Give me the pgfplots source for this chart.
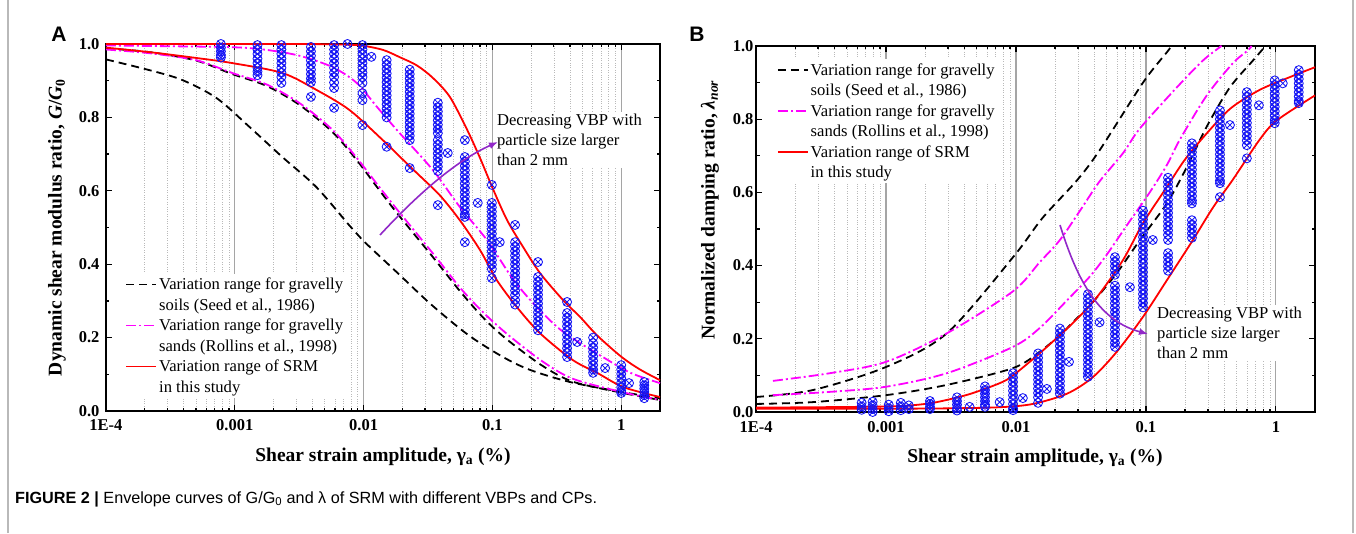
\documentclass[border=0pt]{standalone}
\usepackage{fontspec}
\setmainfont{Liberation Serif}
\newfontfamily\sansfont{Liberation Sans}
\usepackage{pgfplots}
\pgfplotsset{compat=1.18}
\usetikzlibrary{arrows.meta}
\definecolor{mag}{RGB}{255,0,255}
\definecolor{pur}{RGB}{145,40,200}
\definecolor{mkblue}{RGB}{20,20,245}
\definecolor{gridmaj}{RGB}{165,165,165}
\definecolor{gridmin}{RGB}{185,185,185}
\tikzset{
  blk/.style={black, line width=1.8pt, dash pattern=on 8pt off 5pt},
  mg/.style={mag, line width=1.8pt, dash pattern=on 10pt off 3pt on 2pt off 3pt},
  rd/.style={red, line width=1.8pt},
}
\pgfplotsset{legend image code/.code={\draw[#1] (0pt,0pt) -- (30pt,0pt);}}
\begin{document}
\begin{tikzpicture}
\path[use as bounding box] (0pt,0pt) rectangle (1356pt,533pt);
% ---------------- Panel A ----------------
\begin{axis}[
    scale only axis, xmode=log, xmin=1e-4, xmax=2, ymin=0, ymax=1,
    clip=false,
    xtick={1e-4,1e-3,1e-2,1e-1,1},
    xticklabels={1E-4,0.001,0.01,0.1,1},
    ytick={0,0.2,0.4,0.6,0.8,1},
    yticklabels={0.0,0.2,0.4,0.6,0.8,1.0},
    minor ytick={0.1,0.3,0.5,0.7,0.9},
    tick align=inside,
    major tick length=6pt, minor tick length=3.5pt,
    tick style={black, line width=1.2pt},
    axis line style={black, line width=1.6pt},
    xmajorgrids, xminorgrids,
    major grid style={gridmaj, line width=1.2pt},
    minor grid style={gridmin, dotted, line width=0.7pt},
    tick label style={font=\bfseries\fontsize{16.5}{16.5}\selectfont},
    label style={font=\bfseries\fontsize{19.5}{19.5}\selectfont},
    legend style={draw=none, fill=white, inner sep=2pt, row sep=3.4pt,
      font=\fontsize{16.6}{20}\selectfont,
      cells={anchor=west, inner xsep=5pt}},
  at={(106pt,122pt)}, anchor=south west, width=554pt, height=367pt,
  xlabel={Shear strain amplitude, γ\textsubscript{a} (\%)},
  ylabel={Dynamic shear modulus ratio, \textit{G}/\textit{G}\textsubscript{0}},
  xlabel style={at={(axis description cs:0.5,-0.125)}, anchor=center},
  ylabel style={at={(axis description cs:-0.0884,0.5)}, anchor=center},
  xticklabel style={yshift=-5pt},
  yticklabel style={xshift=-3pt},
  legend style={at={(axis description cs:0.031,0.374)}, anchor=north west},
]
\node[fill=white, align=left, anchor=north west, inner sep=2pt, font=\fontsize{16.6}{20}\selectfont]
  at (axis description cs:0.702,0.814) {Decreasing VBP with\\particle size larger\\than 2 mm};
\addlegendimage{blk}\addlegendentry{Variation range for gravelly}
\addlegendimage{empty legend}\addlegendentry{soils (Seed et al., 1986)}
\addlegendimage{mg}\addlegendentry{Variation range for gravelly}
\addlegendimage{empty legend}\addlegendentry{sands (Rollins et al., 1998)}
\addlegendimage{rd}\addlegendentry{Variation range of SRM}
\addlegendimage{empty legend}\addlegendentry{in this study}
% data points
\addplot[only marks, mark=otimes, mark size=4.5pt, mark options={draw=mkblue, line width=0.85pt}, forget plot] coordinates {
(0.00078,1.000)(0.00078,0.990)(0.00078,0.980)(0.00078,0.970)(0.00078,0.963)
(0.0015,0.997)(0.0015,0.985)(0.0015,0.973)(0.0015,0.960)(0.0015,0.948)(0.0015,0.935)(0.0015,0.925)(0.0015,0.915)
(0.0023,0.997)(0.0023,0.985)(0.0023,0.973)(0.0023,0.960)(0.0023,0.948)(0.0023,0.935)(0.0023,0.922)(0.0023,0.910)(0.0023,0.894)
(0.0039,0.992)(0.0039,0.980)(0.0039,0.968)(0.0039,0.955)(0.0039,0.943)(0.0039,0.930)(0.0039,0.918)(0.0039,0.906)(0.0039,0.896)(0.0039,0.856)
(0.0059,0.997)(0.0059,0.985)(0.0059,0.973)(0.0059,0.960)(0.0059,0.948)(0.0059,0.935)(0.0059,0.922)(0.0059,0.910)(0.0059,0.895)(0.0059,0.880)(0.0059,0.826)
(0.0075,1.000)
(0.0098,0.997)(0.0098,0.985)(0.0098,0.973)(0.0098,0.960)(0.0098,0.948)(0.0098,0.935)(0.0098,0.922)(0.0098,0.910)(0.0098,0.894)(0.0098,0.866)(0.0098,0.847)(0.0098,0.779)
(0.0115,0.965)
(0.0151,0.956)(0.0151,0.944)(0.0151,0.932)(0.0151,0.920)(0.0151,0.908)(0.0151,0.896)(0.0151,0.884)(0.0151,0.872)(0.0151,0.860)(0.0151,0.848)(0.0151,0.836)(0.0151,0.824)(0.0151,0.812)(0.0151,0.800)(0.0151,0.720)
(0.0228,0.930)(0.0228,0.918)(0.0228,0.906)(0.0228,0.894)(0.0228,0.882)(0.0228,0.870)(0.0228,0.858)(0.0228,0.846)(0.0228,0.834)(0.0228,0.822)(0.0228,0.810)(0.0228,0.798)(0.0228,0.786)(0.0228,0.774)(0.0228,0.762)(0.0228,0.750)(0.0228,0.738)(0.0228,0.662)
(0.0377,0.840)(0.0377,0.828)(0.0377,0.816)(0.0377,0.804)(0.0377,0.792)(0.0377,0.780)(0.0377,0.768)(0.0377,0.757)(0.0377,0.738)(0.0377,0.726)(0.0377,0.714)(0.0377,0.702)(0.0377,0.690)(0.0377,0.678)(0.0377,0.666)(0.0377,0.654)(0.0377,0.561)
(0.045,0.703)
(0.0611,0.738)(0.0611,0.692)(0.0611,0.680)(0.0611,0.668)(0.0611,0.656)(0.0611,0.644)(0.0611,0.632)(0.0611,0.620)(0.0611,0.608)(0.0611,0.596)(0.0611,0.584)(0.0611,0.572)(0.0611,0.560)(0.0611,0.548)(0.0611,0.536)(0.0611,0.529)(0.0611,0.460)
(0.077,0.567)
(0.099,0.616)(0.099,0.567)(0.099,0.555)(0.099,0.543)(0.099,0.531)(0.099,0.519)(0.099,0.507)(0.099,0.495)(0.099,0.483)(0.099,0.471)(0.099,0.459)(0.099,0.447)(0.099,0.435)(0.099,0.423)(0.099,0.411)(0.099,0.399)(0.099,0.387)(0.099,0.362)
(0.114,0.460)
(0.150,0.507)(0.150,0.460)(0.150,0.448)(0.150,0.436)(0.150,0.424)(0.150,0.412)(0.150,0.400)(0.150,0.388)(0.150,0.376)(0.150,0.364)(0.150,0.352)(0.150,0.340)(0.150,0.328)(0.150,0.316)(0.150,0.302)(0.150,0.290)
(0.226,0.406)(0.226,0.365)(0.226,0.353)(0.226,0.341)(0.226,0.329)(0.226,0.317)(0.226,0.305)(0.226,0.293)(0.226,0.281)(0.226,0.269)(0.226,0.257)(0.226,0.245)(0.226,0.233)(0.226,0.220)
(0.380,0.297)(0.380,0.267)(0.380,0.255)(0.380,0.243)(0.380,0.231)(0.380,0.219)(0.380,0.207)(0.380,0.195)(0.380,0.183)(0.380,0.171)(0.380,0.159)(0.380,0.147)
(0.455,0.188)
(0.605,0.200)(0.605,0.185)(0.605,0.173)(0.605,0.161)(0.605,0.149)(0.605,0.137)(0.605,0.125)(0.605,0.113)(0.605,0.104)
(0.75,0.117)
(1.0,0.125)(1.0,0.113)(1.0,0.101)(1.0,0.089)(1.0,0.077)(1.0,0.065)(1.0,0.055)(1.0,0.049)
(1.15,0.076)
(1.51,0.079)(1.51,0.070)(1.51,0.061)(1.51,0.052)(1.51,0.043)(1.51,0.035)
};
% black dashed (Seed)
\addplot[blk, smooth, forget plot] coordinates {
(1e-4,0.958)(2.16e-4,0.929)(3.9e-4,0.902)(7.2e-4,0.853)(0.0013,0.774)(0.00234,0.692)(0.0043,0.61)(0.00778,0.505)(0.0098,0.466)(0.0185,0.375)(0.0335,0.29)(0.065,0.207)(0.121,0.147)(0.196,0.112)(0.40,0.079)(1.0,0.052)(2,0.035)};
\addplot[blk, smooth, forget plot] coordinates {
(1e-4,0.988)(2.16e-4,0.978)(5e-4,0.955)(9.56e-4,0.918)(0.00176,0.886)(0.00318,0.834)(0.00574,0.76)(0.00883,0.684)(0.0126,0.612)(0.0181,0.54)(0.0344,0.42)(0.058,0.32)(0.09,0.245)(0.135,0.19)(0.245,0.123)(0.42,0.08)(1.0,0.05)(2,0.03)};
% magenta dash-dot (Rollins)
\addplot[mg, smooth, forget plot] coordinates {
(1e-4,0.985)(2.16e-4,0.975)(5e-4,0.956)(9.56e-4,0.921)(0.00176,0.89)(0.00318,0.839)(0.00574,0.766)(0.00883,0.69)(0.0126,0.62)(0.0181,0.55)(0.0344,0.43)(0.058,0.33)(0.09,0.26)(0.135,0.205)(0.245,0.135)(0.42,0.088)(1.0,0.052)(2,0.03)};
\addplot[mg, smooth, forget plot] coordinates {
(1e-4,0.996)(3e-4,0.994)(0.001,0.991)(0.00176,0.984)(0.00318,0.968)(0.00574,0.937)(0.00883,0.894)(0.0126,0.83)(0.0181,0.766)(0.0344,0.657)(0.0558,0.556)(0.0906,0.466)(0.144,0.36)(0.207,0.294)(0.318,0.229)(0.455,0.19)(0.72,0.147)(1.18,0.104)(2,0.076)};
% red (SRM)
\addplot[rd, smooth, forget plot] coordinates {
(1e-4,0.99)(2.16e-4,0.978)(5e-4,0.962)(9.56e-4,0.948)(0.00234,0.921)(0.0043,0.875)(0.00778,0.82)(0.0141,0.738)(0.0191,0.693)(0.0265,0.645)(0.039,0.588)(0.0558,0.52)(0.08,0.439)(0.108,0.357)(0.155,0.283)(0.234,0.212)(0.42,0.139)(0.65,0.104)(1.04,0.065)(2,0.038)};
\addplot[rd, smooth, forget plot] coordinates {
(1e-4,1.0)(0.001,1.0)(0.003,1.0)(0.006,0.999)(0.0095,0.996)(0.0141,0.984)(0.0191,0.964)(0.0258,0.942)(0.0344,0.908)(0.0467,0.856)(0.0633,0.768)(0.080,0.690)(0.101,0.605)(0.130,0.52)(0.173,0.447)(0.234,0.376)(0.354,0.302)(0.48,0.256)(0.65,0.206)(1.0,0.148)(1.4,0.113)(2,0.084)};
\end{axis}
% ---------------- Panel B ----------------
\begin{axis}[
    scale only axis, xmode=log, xmin=1e-4, xmax=2, ymin=0, ymax=1,
    clip=false,
    xtick={1e-4,1e-3,1e-2,1e-1,1},
    xticklabels={1E-4,0.001,0.01,0.1,1},
    ytick={0,0.2,0.4,0.6,0.8,1},
    yticklabels={0.0,0.2,0.4,0.6,0.8,1.0},
    minor ytick={0.1,0.3,0.5,0.7,0.9},
    tick align=inside,
    major tick length=6pt, minor tick length=3.5pt,
    tick style={black, line width=1.2pt},
    axis line style={black, line width=1.6pt},
    xmajorgrids, xminorgrids,
    major grid style={gridmaj, line width=1.2pt},
    minor grid style={gridmin, dotted, line width=0.7pt},
    tick label style={font=\bfseries\fontsize{16.5}{16.5}\selectfont},
    label style={font=\bfseries\fontsize{19.5}{19.5}\selectfont},
    legend style={draw=none, fill=white, inner sep=2pt, row sep=3.4pt,
      font=\fontsize{16.6}{20}\selectfont,
      cells={anchor=west, inner xsep=5pt}},
  at={(756pt,121pt)}, anchor=south west, width=559pt, height=366pt,
  xlabel={Shear strain amplitude, γ\textsubscript{a} (\%)},
  ylabel={Normalized damping ratio, \textit{λ}\textsubscript{\textit{nor}}},
  xlabel style={at={(axis description cs:0.499,-0.126)}, anchor=center},
  ylabel style={at={(axis description cs:-0.0823,0.552)}, anchor=center},
  xticklabel style={yshift=-6pt},
  yticklabel style={xshift=1pt},
  legend style={at={(axis description cs:0.0335,0.9637)}, anchor=north west},
]
\node[fill=white, align=left, anchor=north west, inner sep=2pt, font=\fontsize{16.6}{20}\selectfont]
  at (axis description cs:0.7138,0.292) {Decreasing VBP with\\particle size larger\\than 2 mm};
\addlegendimage{blk}\addlegendentry{Variation range for gravelly}
\addlegendimage{empty legend}\addlegendentry{soils (Seed et al., 1986)}
\addlegendimage{mg}\addlegendentry{Variation range for gravelly}
\addlegendimage{empty legend}\addlegendentry{sands (Rollins et al., 1998)}
\addlegendimage{rd}\addlegendentry{Variation range of SRM}
\addlegendimage{empty legend}\addlegendentry{in this study}
\addplot[only marks, mark=otimes, mark size=4.5pt, mark options={draw=mkblue, line width=0.85pt}, forget plot] coordinates {
(6.5e-4,0.025)(6.5e-4,0.015)(6.5e-4,0.006)
(7.9e-4,0.028)(7.9e-4,0.018)(7.9e-4,0.008)(7.9e-4,0.000)
(0.00105,0.020)(0.00105,0.010)(0.00105,0.002)
(0.0013,0.025)(0.0013,0.015)(0.0013,0.005)
(0.0015,0.018)(0.0015,0.008)
(0.00218,0.030)(0.00218,0.022)(0.00218,0.014)(0.00218,0.008)
(0.00352,0.040)(0.00352,0.030)(0.00352,0.020)(0.00352,0.010)(0.00352,0.004)
(0.0044,0.014)
(0.00578,0.070)(0.00578,0.060)(0.00578,0.050)(0.00578,0.040)(0.00578,0.030)(0.00578,0.020)(0.00578,0.014)
(0.0075,0.027)
(0.0095,0.106)(0.0095,0.094)(0.0095,0.082)(0.0095,0.070)(0.0095,0.058)(0.0095,0.046)(0.0095,0.034)(0.0095,0.022)(0.0095,0.010)(0.0095,0.005)
(0.0113,0.038)
(0.0148,0.160)(0.0148,0.148)(0.0148,0.136)(0.0148,0.124)(0.0148,0.112)(0.0148,0.100)(0.0148,0.088)(0.0148,0.076)(0.0148,0.064)(0.0148,0.052)(0.0148,0.040)(0.0148,0.025)
(0.0173,0.063)
(0.0218,0.228)(0.0218,0.216)(0.0218,0.204)(0.0218,0.192)(0.0218,0.180)(0.0218,0.168)(0.0218,0.156)(0.0218,0.144)(0.0218,0.132)(0.0218,0.120)(0.0218,0.108)(0.0218,0.096)(0.0218,0.084)(0.0218,0.072)(0.0218,0.060)(0.0218,0.050)
(0.0256,0.137)
(0.0358,0.322)(0.0358,0.310)(0.0358,0.298)(0.0358,0.286)(0.0358,0.274)(0.0358,0.262)(0.0358,0.250)(0.0358,0.238)(0.0358,0.226)(0.0358,0.214)(0.0358,0.202)(0.0358,0.190)(0.0358,0.178)(0.0358,0.166)(0.0358,0.154)(0.0358,0.142)(0.0358,0.130)(0.0358,0.118)(0.0358,0.106)(0.0358,0.096)
(0.044,0.245)
(0.0578,0.423)(0.0578,0.411)(0.0578,0.399)(0.0578,0.387)(0.0578,0.375)(0.0578,0.345)(0.0578,0.333)(0.0578,0.321)(0.0578,0.309)(0.0578,0.297)(0.0578,0.285)(0.0578,0.273)(0.0578,0.261)(0.0578,0.249)(0.0578,0.237)(0.0578,0.225)(0.0578,0.213)(0.0578,0.201)(0.0578,0.189)(0.0578,0.178)
(0.0753,0.341)
(0.095,0.550)(0.095,0.538)(0.095,0.526)(0.095,0.514)(0.095,0.502)(0.095,0.490)(0.095,0.478)(0.095,0.466)(0.095,0.454)(0.095,0.442)(0.095,0.430)(0.095,0.418)(0.095,0.406)(0.095,0.394)(0.095,0.382)(0.095,0.370)(0.095,0.358)(0.095,0.346)(0.095,0.334)(0.095,0.322)(0.095,0.310)(0.095,0.298)(0.095,0.286)
(0.113,0.470)
(0.148,0.640)(0.148,0.628)(0.148,0.616)(0.148,0.604)(0.148,0.592)(0.148,0.580)(0.148,0.568)(0.148,0.556)(0.148,0.544)(0.148,0.532)(0.148,0.520)(0.148,0.508)(0.148,0.496)(0.148,0.484)(0.148,0.470)(0.148,0.434)(0.148,0.422)(0.148,0.410)(0.148,0.398)(0.148,0.386)
(0.226,0.734)(0.226,0.722)(0.226,0.710)(0.226,0.698)(0.226,0.686)(0.226,0.674)(0.226,0.662)(0.226,0.650)(0.226,0.638)(0.226,0.626)(0.226,0.614)(0.226,0.602)(0.226,0.590)(0.226,0.578)(0.226,0.570)(0.226,0.524)(0.226,0.512)(0.226,0.500)(0.226,0.488)(0.226,0.476)
(0.371,0.824)(0.371,0.812)(0.371,0.800)(0.371,0.788)(0.371,0.776)(0.371,0.764)(0.371,0.752)(0.371,0.740)(0.371,0.728)(0.371,0.716)(0.371,0.704)(0.371,0.692)(0.371,0.680)(0.371,0.668)(0.371,0.656)(0.371,0.644)(0.371,0.632)(0.371,0.625)(0.371,0.587)
(0.443,0.784)
(0.598,0.874)(0.598,0.862)(0.598,0.850)(0.598,0.838)(0.598,0.826)(0.598,0.814)(0.598,0.802)(0.598,0.790)(0.598,0.778)(0.598,0.766)(0.598,0.754)(0.598,0.742)(0.598,0.729)(0.598,0.693)
(0.74,0.838)
(0.98,0.906)(0.98,0.894)(0.98,0.882)(0.98,0.870)(0.98,0.858)(0.98,0.846)(0.98,0.834)(0.98,0.822)(0.98,0.810)(0.98,0.798)(0.98,0.789)
(1.13,0.898)
(1.50,0.934)(1.50,0.922)(1.50,0.910)(1.50,0.898)(1.50,0.886)(1.50,0.874)(1.50,0.862)(1.50,0.850)(1.50,0.844)
};
\addplot[blk, smooth, forget plot] coordinates {
(1e-4,0.041)(2.74e-4,0.06)(0.001,0.123)(0.00294,0.215)(0.0095,0.423)(0.016,0.53)(0.0295,0.633)(0.044,0.715)(0.095,0.90)(0.145,0.983)(0.158,1.0)};
\addplot[blk, smooth, forget plot] coordinates {
(1e-4,0.022)(2.74e-4,0.027)(0.001,0.046)(0.00294,0.074)(0.0095,0.12)(0.0153,0.165)(0.0218,0.21)(0.0274,0.245)(0.039,0.30)(0.0598,0.38)(0.09,0.47)(0.145,0.57)(0.207,0.67)(0.294,0.78)(0.443,0.887)(0.665,0.96)(0.8,0.993)(0.83,1.0)};
\addplot[mg, smooth, forget plot] coordinates {
(1.35e-4,0.085)(3.7e-4,0.106)(0.001,0.137)(0.00294,0.215)(0.0095,0.33)(0.0153,0.41)(0.0218,0.47)(0.0311,0.55)(0.044,0.63)(0.0666,0.707)(0.09,0.775)(0.173,0.887)(0.274,0.96)(0.371,0.997)(0.38,1.0)};
\addplot[mg, smooth, forget plot] coordinates {
(1.35e-4,0.046)(3.7e-4,0.055)(0.001,0.069)(0.00294,0.106)(0.0095,0.178)(0.0153,0.23)(0.0247,0.305)(0.037,0.37)(0.05,0.43)(0.0713,0.51)(0.107,0.6)(0.145,0.675)(0.183,0.745)(0.294,0.865)(0.467,0.953)(0.609,0.988)(0.65,1.0)};
\addplot[rd, smooth, forget plot] coordinates {
(1e-4,0.012)(0.001,0.015)(0.002,0.022)(0.00294,0.033)(0.0045,0.05)(0.00753,0.079)(0.0095,0.10)(0.0153,0.161)(0.0274,0.243)(0.042,0.314)(0.0666,0.415)(0.095,0.516)(0.145,0.615)(0.2,0.69)(0.3,0.765)(0.45,0.83)(0.75,0.88)(1.28,0.915)(2,0.942)};
\addplot[rd, smooth, forget plot] coordinates {
(1e-4,0.009)(0.001,0.009)(0.003,0.01)(0.0075,0.013)(0.0135,0.022)(0.0247,0.05)(0.039,0.095)(0.0598,0.165)(0.095,0.26)(0.145,0.36)(0.23,0.47)(0.33,0.56)(0.467,0.635)(0.753,0.745)(1.02,0.797)(2.0,0.865)};
\end{axis}
% ---------------- annotations ----------------
\draw[pur, line width=1.6pt, -{Latex[length=9pt,width=7pt]}] (380pt,298pt) .. controls (415pt,336pt) and (455pt,372pt) .. (498pt,391pt);
\draw[pur, line width=1.6pt, -{Latex[length=9pt,width=7pt]}] (1060pt,308pt) .. controls (1078pt,250pt) and (1100pt,212pt) .. (1148pt,199pt);
\node[font=\sansfont\bfseries\fontsize{21}{21}\selectfont] at (59pt,499pt) {A};
\node[font=\sansfont\bfseries\fontsize{21}{21}\selectfont] at (697pt,499pt) {B};
\node[anchor=base west, inner sep=0pt, font=\sansfont\fontsize{16.2}{16.2}\selectfont] at (15pt,30pt)
  {\textbf{FIGURE 2 |} Envelope curves of G/G\textsubscript{0} and λ of SRM with different VBPs and CPs.};
\draw[gray!55, line width=1.5pt] (8pt,0pt) -- (8pt,533pt);
\draw[gray!55, line width=1.5pt] (1353pt,0pt) -- (1353pt,533pt);
\end{tikzpicture}
\end{document}
